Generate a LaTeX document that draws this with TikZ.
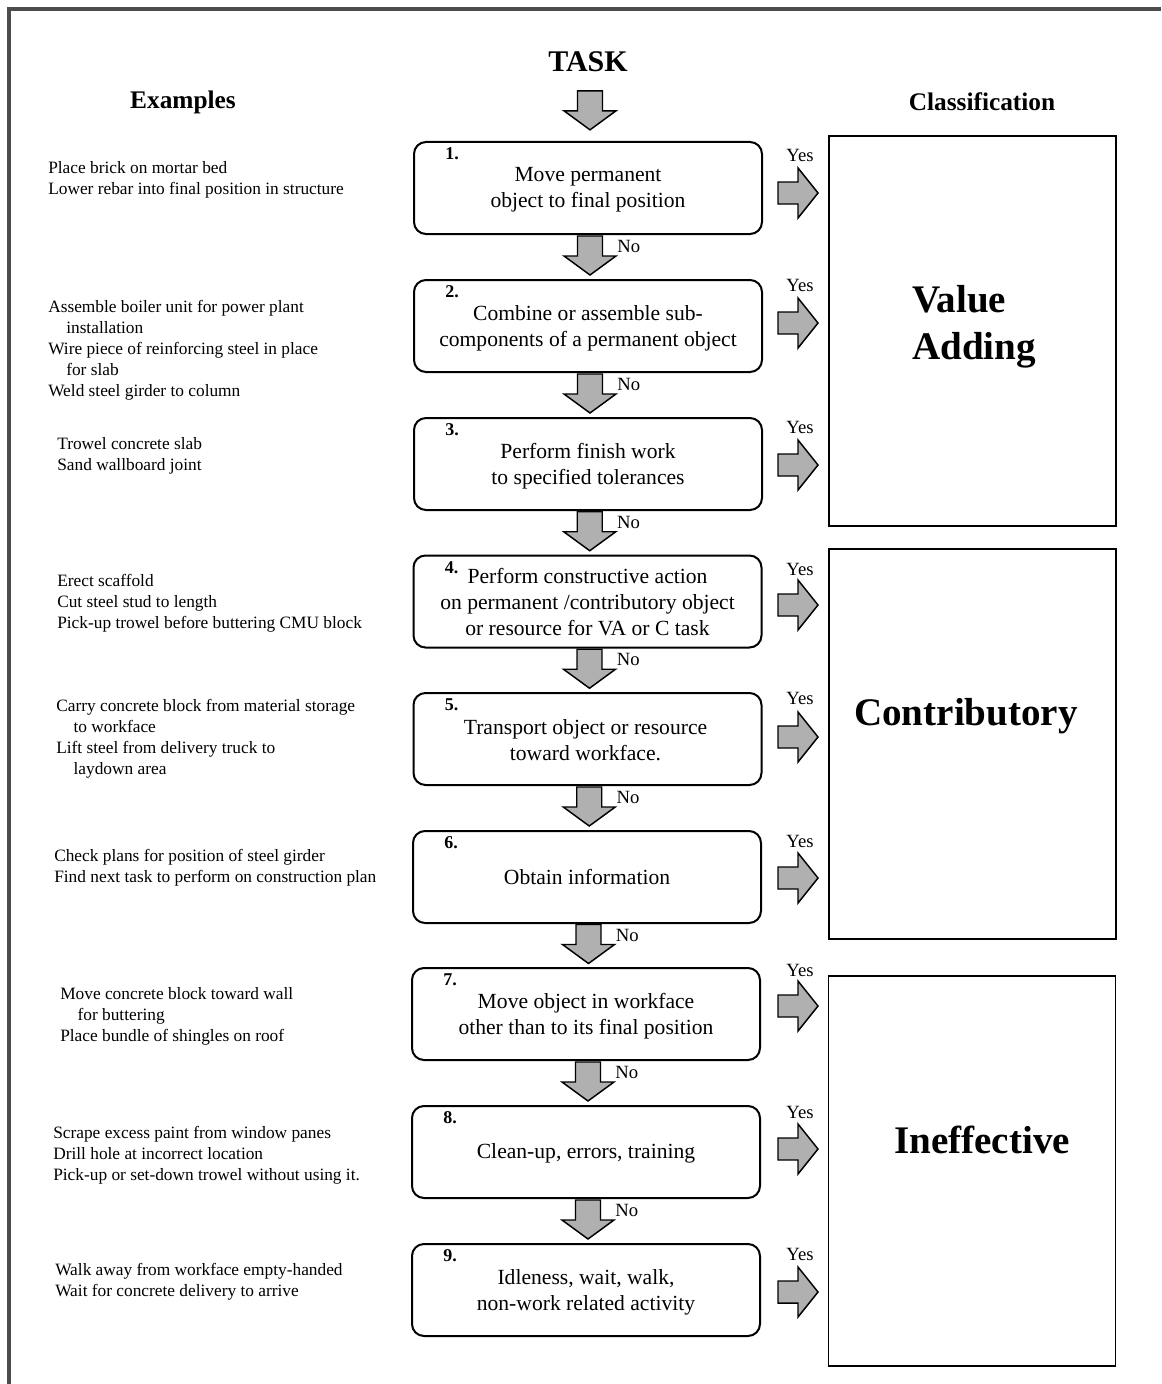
\documentclass[tikz,border=0pt]{standalone}
\usepackage{fontspec}
\setmainfont{Liberation Serif}
\usetikzlibrary{calc}
\begin{document}
\begin{tikzpicture}[x=0.75pt,y=-0.75pt,
  stepbox/.style={draw, line width=1.5pt, rounded corners=9pt, minimum width=261pt, minimum height=69pt, inner sep=0pt},
  steptext/.style={align=center, inner sep=0pt, font=\fontsize{16.2}{19.5}\selectfont},
  classbox/.style={draw, line width=1.4pt, minimum width=215.25pt, minimum height=292.5pt, inner sep=0pt},
  classlabel/.style={font=\fontsize{29.3}{35}\selectfont\bfseries, align=left, inner sep=0pt},
  title/.style={font=\fontsize{19}{23}\selectfont\bfseries, inner sep=0pt},
  numlabel/.style={font=\fontsize{13.5}{15}\selectfont\bfseries, inner sep=0pt},
  example/.style={font=\fontsize{13}{15.75}\selectfont, align=left, anchor=north west, inner sep=0pt},
  yn/.style={font=\fontsize{14}{16}\selectfont, inner sep=0pt},
  arrowfill/.style={draw=black, line width=1.1pt, fill=gray!62, line join=miter},
  downarr/.pic={\path[arrowfill] (-12.5,-19.5) -- (12.5,-19.5) -- (12.5,0.5) -- (26,0.5) -- (0,19.5) -- (-26,0.5) -- (-12.5,0.5) -- cycle;},
  rightarr/.pic={\path[arrowfill] (-20,-11) -- (0,-11) -- (0,-25) -- (20,0) -- (0,25) -- (0,11) -- (-20,11) -- cycle;}
]
\useasboundingbox (0,0) rectangle (1161,1384);
% page border (top and left edges)
\draw[line width=2.4pt, gray!60!black] (1161,9) -- (9,9) -- (9,1384);

% titles
\node[title, font=\fontsize{22.5}{26}\selectfont\bfseries] (task) at (588,62) {TASK};
\node[title] (ex) at (183,102) {Examples};
\node[title] (cl) at (982,102) {Classification};

% step boxes
\node[stepbox] (b1) at (588,188) {};
\node[stepbox] (b2) at (588,326) {};
\node[stepbox] (b3) at (588,464) {};
\node[stepbox] (b4) at (587.5,601.5) {};
\node[stepbox] (b5) at (587.5,739) {};
\node[stepbox] (b6) at (587,877) {};
\node[stepbox] (b7) at (586,1014) {};
\node[stepbox] (b8) at (586,1152) {};
\node[stepbox] (b9) at (586,1290) {};

\node[steptext] (t1) at ($(b1.center)+(0,2)$) {Move permanent\\object to final position};
\node[steptext] (t2) at ($(b2.center)+(0,2)$) {Combine or assemble sub-\\components of a permanent object};
\node[steptext] (t3) at ($(b3.center)+(0,2)$) {Perform finish work\\to specified tolerances};
\node[steptext] (t4) at ($(b4.center)+(0,1)$) {Perform constructive action\\on permanent /contributory object\\or resource for VA or C task};
\node[steptext] (t5) at ($(b5.center)+(-2,1)$) {Transport object or resource\\toward workface.};
\node[steptext] (t6) at ($(b6.center)+(0,0)$) {Obtain information};
\node[steptext] (t7) at ($(b7.center)+(0,2)$) {Move object in workface\\other than to its final position};
\node[steptext] (t8) at ($(b8.center)+(0,1)$) {Clean-up, errors, training};
\node[steptext] (t9) at ($(b9.center)+(0,2)$) {Idleness, wait, walk,\\non-work related activity};

\foreach \i in {1,...,9}{
  \node[numlabel] (n\i) at ($(b\i.north west)+(39,13)$) {\i.};
}

% classification boxes
\node[classbox] (va) at (972.5,331) {};
\node[classbox] (co) at (972.5,744) {};
\node[classbox] (ie) at (972,1171) {};
\node[classlabel] (val) at (974,327) {Value\\Adding};
\node[classlabel] (col) at (966,716) {Contributory};
\node[classlabel] (iel) at (982,1140) {Ineffective};

% task arrow
\pic at ($(task.south)+(2,38)$) {downarr};

% down arrows with "No"
\foreach \a/\b in {1/2,2/3,3/4,4/5,5/6,6/7,7/8,8/9}{
  \coordinate (m\a) at ($(b\a.south)!0.5!(b\b.north)+(2,-1.5)$);
  \pic at (m\a) {downarr};
  \node[yn, anchor=west] (no\a) at ($(m\a)+(27,-9)$) {No};
}

% right arrows with "Yes"
\foreach \i/\ay/\yy in {1/193/155,2/323/285,3/465/427,4/605/569,5/737/698,6/878/841,7/1006/970,8/1149/1112,9/1292/1254}{
  \coordinate (r\i) at (798,\ay);
  \pic at (r\i) {rightarr};
  \node[yn] (yes\i) at (800,\yy) {Yes};
}

% examples
\node[example] (e1) at (48,161) {Place brick on mortar bed\\Lower rebar into final position in structure};
\node[example] (e2) at (48,300) {Assemble boiler unit for power plant\\\hspace*{13.5pt}installation\\Wire piece of reinforcing steel in place\\\hspace*{13.5pt}for slab\\Weld steel girder to column};
\node[example] (e3) at (57,437) {Trowel concrete slab\\Sand wallboard joint};
\node[example] (e4) at (57,574) {Erect scaffold\\Cut steel stud to length\\Pick-up trowel before buttering CMU block};
\node[example] (e5) at (56,699) {Carry concrete block from material storage\\\hspace*{13pt}to workface\\Lift steel from delivery truck to\\\hspace*{13pt}laydown area};
\node[example] (e6) at (54,849) {Check plans for position of steel girder\\Find next task to perform on construction plan};
\node[example] (e7) at (60,987) {Move concrete block toward wall\\\hspace*{13pt}for buttering\\Place bundle of shingles on roof};
\node[example] (e8) at (53,1126) {Scrape excess paint from window panes\\Drill hole at incorrect location\\Pick-up or set-down trowel without using it.};
\node[example] (e9) at (55,1263) {Walk away from workface empty-handed\\Wait for concrete delivery to arrive};
\end{tikzpicture}
\end{document}
